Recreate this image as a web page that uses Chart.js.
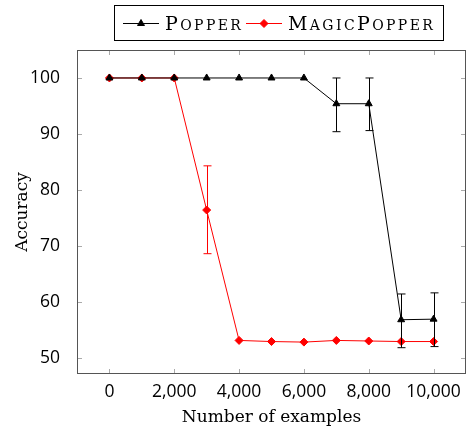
<!DOCTYPE html>
<html>
<head>
<meta charset="utf-8">
<script src="https://cdn.jsdelivr.net/npm/chart.js@4/dist/chart.umd.min.js"></script>
<style>
  html, body { margin: 0; padding: 0; background: #fff; }
  #wrap { width: 468px; height: 431px; }
</style>
</head>
<body>
<div id="wrap"><canvas id="chart"></canvas></div>
<script>
// data
const examples = [0, 1000, 2000, 3000, 4000, 5000, 6000, 7000, 8000, 9000, 10000];
const popper     = [100, 100, 100, 100, 100, 100, 100, 95.4, 95.4, 56.8, 56.9];
const popperLow  = [null, null, null, null, null, null, null, 90.4, 90.6, 51.8, 52.0];
const popperHigh = [null, null, null, null, null, null, null, 100, 100, 61.4, 61.6];
const magic      = [100, 100, 100, 76.4, 53.1, 52.9, 52.8, 53.1, 53.0, 52.9, 52.9];
const magicLow   = [null, null, null, 68.6, null, null, null, null, null, null, null];
const magicHigh  = [null, null, null, 84.3, null, null, null, null, null, null, null];
const seriesNames = ["Popper", "MagicPopper"];
const xTicks = [0, 2000, 4000, 6000, 8000, 10000];
const yTicks = [50, 60, 70, 80, 90, 100];

const tickFont = { family: "'Open Sans', sans-serif", size: 17.5 };
const titleFont = { family: "'DejaVu Serif', serif", size: 17 };

function points(ys, lo, hi) {
  return examples.map((x, i) => ({ x: x, y: ys[i], lo: lo[i], hi: hi[i] }));
}

// vertical error bars with caps
const errorBars = {
  id: 'errorBars',
  afterDatasetsDraw(chart) {
    const ctx = chart.ctx;
    const ys = chart.scales.y;
    chart.data.datasets.forEach((ds, di) => {
      const meta = chart.getDatasetMeta(di);
      ctx.save();
      ctx.strokeStyle = ds.borderColor;
      ctx.lineWidth = 1;
      ds.data.forEach((d, i) => {
        if (d.lo == null) return;
        const px = Math.round(meta.data[i].x) + 0.5;
        const top = ys.getPixelForValue(d.hi);
        const bot = ys.getPixelForValue(d.lo);
        ctx.beginPath();
        ctx.moveTo(px, top); ctx.lineTo(px, bot);
        ctx.moveTo(px - 4, top); ctx.lineTo(px + 4, top);
        ctx.moveTo(px - 4, bot); ctx.lineTo(px + 4, bot);
        ctx.stroke();
      });
      ctx.restore();
    });
  }
};

// box frame with inward ticks on all four sides
const frame = {
  id: 'frame',
  afterDraw(chart) {
    const ctx = chart.ctx;
    const a = chart.chartArea;
    const xs = chart.scales.x, ys = chart.scales.y;
    ctx.save();
    ctx.strokeStyle = '#aaa';
    ctx.lineWidth = 1;
    ctx.beginPath();
    xTicks.forEach(v => {
      const px = Math.round(xs.getPixelForValue(v)) + 0.5;
      ctx.moveTo(px, a.bottom); ctx.lineTo(px, a.bottom - 5);
      ctx.moveTo(px, a.top); ctx.lineTo(px, a.top + 5);
    });
    yTicks.forEach(v => {
      const py = Math.round(ys.getPixelForValue(v)) + 0.5;
      ctx.moveTo(a.left, py); ctx.lineTo(a.left + 5, py);
      ctx.moveTo(a.right, py); ctx.lineTo(a.right - 5, py);
    });
    ctx.stroke();
    ctx.strokeStyle = '#555';
    ctx.strokeRect(Math.round(a.left) + 0.5, Math.round(a.top) + 0.5,
      Math.round(a.right - a.left) - 1, Math.round(a.bottom - a.top) - 1);
    ctx.restore();
  }
};

// small caps text, drawn letter by letter
function smallCaps(ctx, text, x, y) {
  for (const ch of text) {
    const up = ch === ch.toUpperCase();
    ctx.font = (up ? 19 : 14) + "px 'DejaVu Serif', serif";
    ctx.fillText(ch.toUpperCase(), x, y);
    x += ctx.measureText(ch.toUpperCase()).width + 2.4;
  }
  return x;
}

const legendBox = {
  id: 'legendBox',
  afterDraw(chart) {
    const ctx = chart.ctx;
    ctx.save();
    ctx.strokeStyle = '#000';
    ctx.lineWidth = 1;
    ctx.strokeRect(114.5, 5.5, 329, 35);
    ctx.textBaseline = 'alphabetic';
    ctx.fillStyle = '#000';
    const starts = [123, 246];
    chart.data.datasets.forEach((ds, i) => {
      const x0 = starts[i];
      ctx.strokeStyle = ds.borderColor;
      ctx.beginPath();
      ctx.moveTo(x0, 23.5); ctx.lineTo(x0 + 36, 23.5);
      ctx.stroke();
      ctx.fillStyle = ds.pointBackgroundColor;
      Chart.helpers.drawPoint(ctx, {
        pointStyle: ds.pointStyle, radius: ds.pointRadius, borderWidth: 1
      }, x0 + 18, 23.5);
      ctx.fillStyle = '#000';
      smallCaps(ctx, seriesNames[i], x0 + 42, 30);
    });
    ctx.restore();
  }
};

new Chart(document.getElementById('chart'), {
  type: 'line',
  data: {
    datasets: [
      {
        label: seriesNames[0],
        data: points(popper, popperLow, popperHigh),
        borderColor: '#000',
        backgroundColor: '#000',
        pointBackgroundColor: '#000',
        pointBorderColor: '#000',
        pointStyle: 'triangle',
        pointRadius: 4,
        borderWidth: 1
      },
      {
        label: seriesNames[1],
        data: points(magic, magicLow, magicHigh),
        borderColor: '#ff0000',
        backgroundColor: '#ff0000',
        pointBackgroundColor: '#ff0000',
        pointBorderColor: '#ff0000',
        pointStyle: 'rectRot',
        pointRadius: 4,
        borderWidth: 1
      }
    ]
  },
  options: {
    responsive: true,
    maintainAspectRatio: false,
    animation: false,
    layout: { autoPadding: false, padding: { top: 50, right: 2, left: 0, bottom: 0 } },
    plugins: {
      legend: { display: false },
      tooltip: { enabled: false }
    },
    scales: {
      x: {
        type: 'linear',
        min: -1000,
        max: 11000,
        afterBuildTicks: s => { s.ticks = xTicks.map(v => ({ value: v })); },
        afterFit: s => { s.height = 57; },
        grid: { display: false },
        border: { display: false },
        ticks: { font: tickFont, color: '#000', padding: 0, maxRotation: 0, autoSkip: false },
        title: { display: true, text: 'Number of examples', font: titleFont, color: '#000', padding: { top: 2, bottom: 3 } }
      },
      y: {
        min: 47.1,
        max: 105,
        afterBuildTicks: s => { s.ticks = yTicks.map(v => ({ value: v })); },
        afterFit: s => { s.width = 77; },
        grid: { display: false },
        border: { display: false },
        ticks: { font: tickFont, color: '#000', padding: 9 },
        title: { display: true, text: 'Accuracy', font: titleFont, color: '#000', padding: { top: 12, bottom: 0 } }
      }
    }
  },
  plugins: [errorBars, frame, legendBox]
});
</script>
</body>
</html>
